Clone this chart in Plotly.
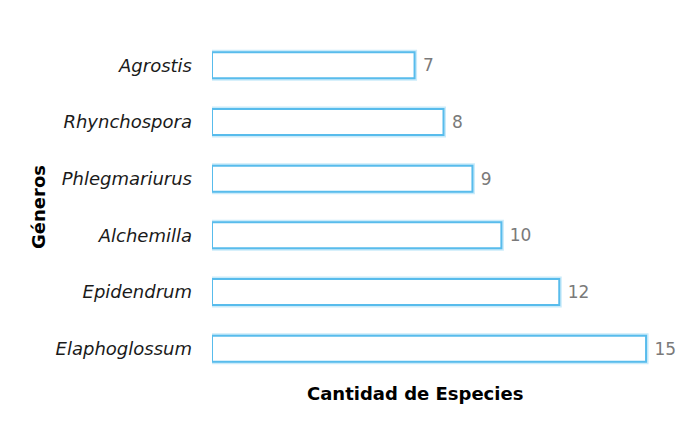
import plotly.graph_objects as go

generos = ["Agrostis", "Rhynchospora", "Phlegmariurus", "Alchemilla", "Epidendrum", "Elaphoglossum"]
especies = [7, 8, 9, 10, 12, 15]

# page body has an 8px margin; compensate so the plot lands where the reference has it
W, H = 700, 441
ml, mr, mt, mb = 204, 33, 29, 72
xmax = 16

fig = go.Figure()
# soft glow
fig.add_trace(go.Bar(
    y=generos, x=especies, orientation="h",
    marker=dict(color="rgba(255,255,255,0)", line=dict(color="rgba(150,215,245,0.5)", width=5)),
    hoverinfo="skip", showlegend=False,
))
fig.add_trace(go.Bar(
    y=generos, x=especies, orientation="h",
    marker=dict(color="white", line=dict(color="rgb(88,188,236)", width=2)),
    text=["\u00a0" + str(v) for v in especies], textposition="outside",
    textfont=dict(family="DejaVu Sans", size=17, color="#7a7a7a"),
    cliponaxis=False, showlegend=False,
))

fig.update_layout(
    width=W, height=H,
    margin=dict(l=ml, r=mr, t=mt, b=mb, pad=0, autoexpand=False),
    paper_bgcolor="white", plot_bgcolor="white",
    barmode="overlay", bargap=0.54,
    font=dict(family="DejaVu Sans", color="black"),
    xaxis=dict(range=[0, xmax], showgrid=False, zeroline=False, showticklabels=False,
               showline=False, fixedrange=True),
    yaxis=dict(autorange="reversed", showgrid=False, zeroline=False, showline=False,
               tickfont=dict(family="DejaVu Sans", size=18, color="#1a1a1a", style="italic"),
               ticklabelstandoff=19),
    annotations=[
        dict(text="<b>Cantidad de Especies</b>", xref="paper", yref="paper",
             x=0.4395, y=0, yshift=-4, xanchor="center", yanchor="top",
             showarrow=False, font=dict(size=18, color="black", family="DejaVu Sans")),
        dict(text="<b>Géneros</b>", xref="paper", yref="paper", textangle=-90,
             x=0, y=0.5, xshift=-174, xanchor="center", yanchor="middle",
             showarrow=False, font=dict(size=18, color="black", family="DejaVu Sans")),
    ],
)

fig.write_html("out.html")
